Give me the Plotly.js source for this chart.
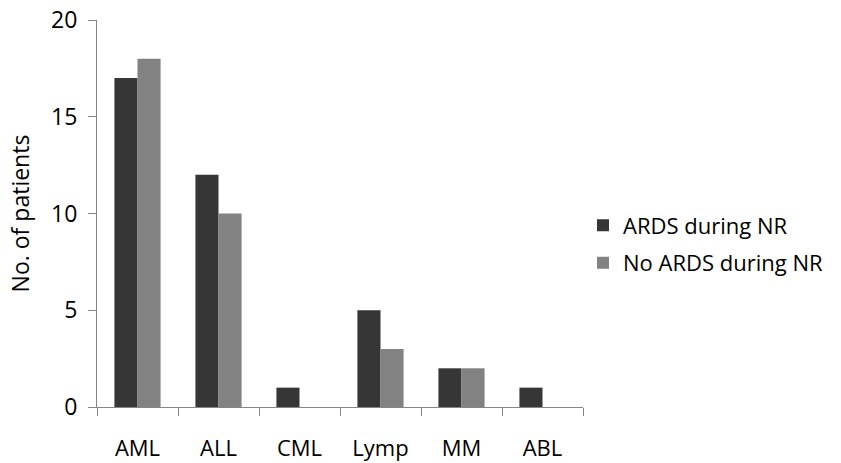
<!DOCTYPE html>
<html>
<head>
<meta charset="utf-8">
<script src="https://cdn.plot.ly/plotly-3.0.1.min.js"></script>
<style>html,body{margin:0;padding:0;background:#fff;}#chart{width:841px;height:463px;}</style>
</head>
<body>
<div id="chart"></div>
<script>
var categories = ["AML", "ALL", "CML", "Lymp", "MM", "ABL"];
var ardsDuringNR = [17, 12, 1, 5, 2, 1];
var noArdsDuringNR = [18, 10, 0, 3, 2, 0];
var seriesNames = ["ARDS during NR", "No ARDS during NR"];
var yTicks = [0, 5, 10, 15, 20];

var FONT = "Open Sans, Noto Sans, sans-serif";
var FS = 23;
var traces = [
  {type: "bar", name: seriesNames[0], x: categories, y: ardsDuringNR, legendgroup: "a",
   marker: {color: "#363636", line: {width: 0}}},
  {type: "bar", name: seriesNames[1], x: categories, y: noArdsDuringNR, legendgroup: "b",
   marker: {color: "#828282", line: {width: 0}}}
];
var layout = {
  width: 841, height: 463,
  margin: {l: 97, r: 258, t: 20, b: 56, pad: 0},
  paper_bgcolor: "#fff", plot_bgcolor: "#fff",
  font: {family: FONT, size: FS, color: "#000"},
  barmode: "group", bargap: 0.43, bargroupgap: 0,
  showlegend: true,
  legend: {x: 1.0, xanchor: "left", y: 0.42, yanchor: "middle", traceorder: "grouped",
           font: {family: FONT, size: 22, color: "#000"},
           tracegroupgap: 6, itemwidth: 30, bgcolor: "rgba(0,0,0,0)"},
  xaxis: {type: "category", showgrid: false, showline: true, linecolor: "#868686", linewidth: 1,
          ticks: "outside", tickson: "boundaries", ticklen: 8, tickcolor: "#868686",
          ticklabelstandoff: 22, zeroline: false, fixedrange: true,
          tickfont: {family: FONT, size: 22, color: "#000"}},
  yaxis: {range: [0, 20], tickvals: yTicks, showgrid: false, showline: true, linecolor: "#868686",
          linewidth: 1, ticks: "outside", ticklen: 8, tickcolor: "#868686", zeroline: false,
          ticklabelstandoff: 6,
          tickfont: {family: FONT, size: FS, color: "#000"},
          title: {text: "No. of patients", font: {family: FONT, size: FS, color: "#000"}, standoff: 15}}
};
Plotly.newPlot("chart", traces, layout, {displayModeBar: false, staticPlot: true});
</script>
</body>
</html>
